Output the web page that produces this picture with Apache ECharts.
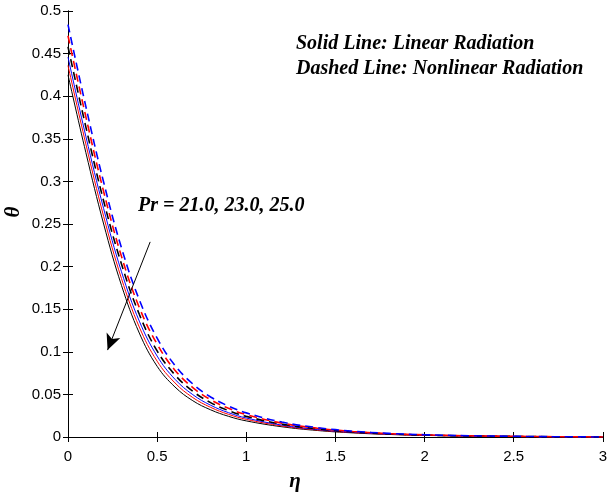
<!DOCTYPE html>
<html><head><meta charset="utf-8">
<script src="https://cdn.jsdelivr.net/npm/echarts@6/dist/echarts.min.js"></script>
<style>html,body{margin:0;padding:0;background:#fff}#c{width:610px;height:493px}</style>
</head><body><div id="c"></div>
<script>
const eta = [0, 0.1, 0.2, 0.3, 0.4, 0.5, 0.6, 0.7, 0.8, 0.9, 1.0, 1.2, 1.4, 1.6, 1.8, 2.0, 2.25, 2.5, 2.75, 3.0];
// Linear radiation (solid)
const linPr21 = [0.446, 0.353, 0.268, 0.194, 0.136, 0.095, 0.0678, 0.0497, 0.0373, 0.0286, 0.0223, 0.0140, 0.0088, 0.0055, 0.0035, 0.0022, 0.0012, 0.0007, 0.0003, 0];
const linPr23 = [0.436, 0.344, 0.259, 0.186, 0.129, 0.089, 0.0635, 0.0463, 0.0348, 0.0266, 0.0207, 0.0130, 0.0082, 0.0052, 0.0032, 0.0021, 0.0012, 0.0006, 0.0003, 0];
const linPr25 = [0.425, 0.334, 0.250, 0.178, 0.122, 0.083, 0.0587, 0.0426, 0.0319, 0.0243, 0.0189, 0.0120, 0.0076, 0.0048, 0.0030, 0.0019, 0.0011, 0.0006, 0.0003, 0];
// Nonlinear radiation (dashed)
const nonPr21 = [0.484, 0.388, 0.299, 0.222, 0.161, 0.116, 0.084, 0.0623, 0.047, 0.0363, 0.0283, 0.0175, 0.011, 0.0068, 0.0043, 0.0027, 0.0015, 0.0008, 0.0003, 0];
const nonPr23 = [0.471, 0.376, 0.288, 0.212, 0.152, 0.109, 0.0784, 0.0580, 0.0437, 0.0337, 0.0262, 0.0163, 0.0103, 0.0064, 0.0040, 0.0025, 0.0014, 0.0008, 0.0003, 0];
const nonPr25 = [0.458, 0.364, 0.277, 0.203, 0.144, 0.101, 0.0729, 0.0536, 0.0404, 0.0310, 0.0242, 0.0151, 0.0095, 0.0059, 0.0037, 0.0023, 0.0013, 0.0007, 0.0003, 0];
const xTicks = ['0','0.5','1','1.5','2','2.5','3'];
const arrowFrom = [0.461, 0.229];
const arrowTo = [0.222, 0.102];

const pair = (ys) => eta.map((x, i) => [x, ys[i]]);
function solid(name, ys, color) {
  return {name, type:'line', data: pair(ys), smooth: 0.4, symbol:'none',
    lineStyle:{color, width:1, type:'solid'}, z:2};
}
function dashed(name, ys, color) {
  return {name, type:'line', data: pair(ys), smooth: 0.4, symbol:'none',
    lineStyle:{color, width:1.6, type:[8,5]}, z:3};
}
const serif = '"Liberation Serif", "Times New Roman", serif';
const sans = '"Liberation Sans", Arial, sans-serif';

const chart = echarts.init(document.getElementById('c'), null, {renderer:'canvas'});
const axisCommon = {
  axisLine:{show:true, lineStyle:{color:'#000', width:1}},
  axisTick:{show:true, inside:true, length:5, lineStyle:{color:'#000'}},
  splitLine:{show:false}
};
chart.setOption({
  animation:false,
  backgroundColor:'#fff',
  grid:{left:68, right:2, top:11, bottom:56, containLabel:false},
  xAxis:[
    Object.assign({type:'value', min:0, max:3, interval:0.5, position:'bottom',
      axisLabel:{color:'#000', fontFamily:sans, fontSize:15, margin:12,
        formatter:(v)=>xTicks[Math.round(v*2)]}}, axisCommon),
    Object.assign({type:'value', min:0, max:3, interval:0.5, position:'top',
      axisLabel:{show:false}}, axisCommon)
  ],
  yAxis:[
    Object.assign({type:'value', min:0, max:0.5, interval:0.05, position:'left',
      axisLabel:{color:'#000', fontFamily:sans, fontSize:15, margin:7,
        formatter:(v)=>String(+v.toFixed(2))}}, axisCommon),
    Object.assign({type:'value', min:0, max:0.5, interval:0.05, position:'right',
      axisLabel:{show:false}}, axisCommon)
  ],
  series:[
    solid('Linear Pr=25', linPr25, '#000000'),
    solid('Linear Pr=23', linPr23, '#ff0000'),
    solid('Linear Pr=21', linPr21, '#0000ff'),
    dashed('Nonlinear Pr=25', nonPr25, '#000000'),
    dashed('Nonlinear Pr=23', nonPr23, '#ff0000'),
    dashed('Nonlinear Pr=21', nonPr21, '#0000ff'),
    {type:'line', data:[], markLine:{silent:true, symbol:['none','arrow'], symbolSize:[11,16],
      label:{show:false}, lineStyle:{color:'#000', width:1, type:'solid'},
      data:[[{coord:arrowFrom}, {coord:arrowTo}]]}}
  ],
  graphic:[
    {type:'text', left:296, top:34, style:{text:'Solid Line: Linear Radiation', font:'italic bold 20px '+serif, fill:'#000'}},
    {type:'text', left:296, top:59, style:{text:'Dashed Line: Nonlinear Radiation', font:'italic bold 20px '+serif, fill:'#000'}},
    {type:'text', left:138, top:196, style:{text:'Pr = 21.0, 23.0, 25.0', font:'italic bold 20px '+serif, fill:'#000'}},
    {type:'text', x:295, y:482, style:{text:'η', font:'italic bold 21px '+serif, fill:'#000', align:'center', verticalAlign:'middle'}},
    {type:'text', x:14, y:212, rotation:Math.PI/2, style:{text:'θ', font:'italic bold 21px '+serif, fill:'#000', align:'center', verticalAlign:'middle'}}
  ]
});
</script></body></html>
